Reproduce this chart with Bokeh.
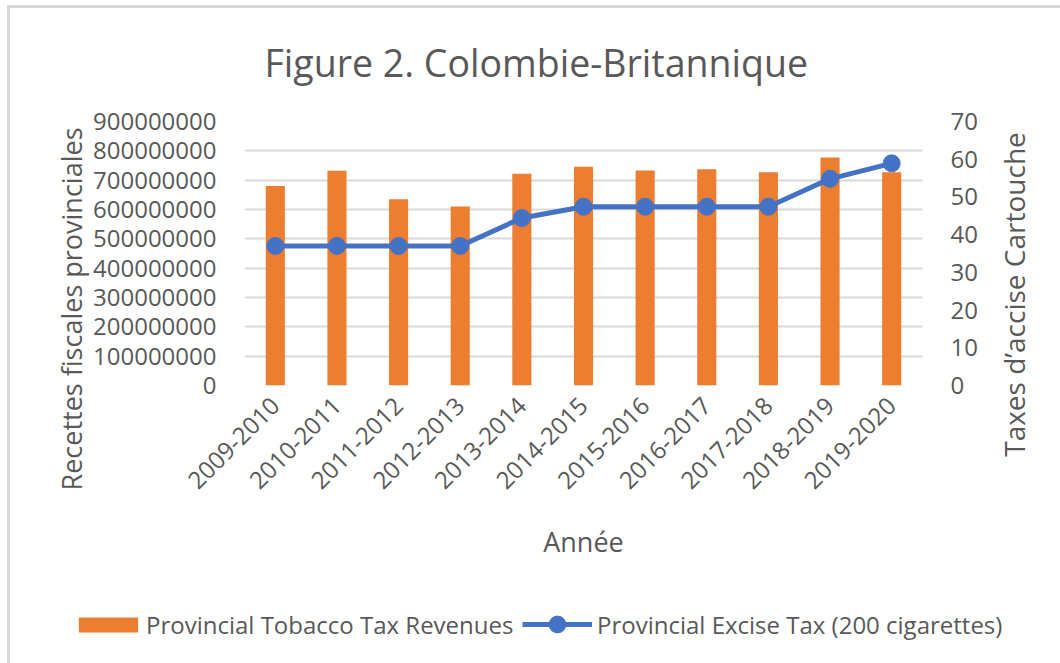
import math
from bokeh.plotting import figure
from bokeh.layouts import column, row
from bokeh.models import (FactorRange, Range1d, LinearAxis, FixedTicker, NumeralTickFormatter,
                          Legend, LegendItem, ColumnDataSource, Title, Label)
from bokeh.embed import file_html
from bokeh.resources import INLINE

years = ["2009-2010", "2010-2011", "2011-2012", "2012-2013", "2013-2014", "2014-2015",
         "2015-2016", "2016-2017", "2017-2018", "2018-2019", "2019-2020"]
revenues = [680e6, 732e6, 635e6, 610e6, 722e6, 746e6, 733e6, 737e6, 727e6, 777e6, 727e6]
excise_tax = [37, 37, 37, 37, 44.4, 47.4, 47.4, 47.4, 47.4, 54.8, 58.9]
left_ticks = [0, 100e6, 200e6, 300e6, 400e6, 500e6, 600e6, 700e6, 800e6, 900e6]
right_ticks = [0, 10, 20, 30, 40, 50, 60, 70]

W, H = 1060, 663
MAIN_W, MAIN_H = 990, 590
FL, FR, FT, FB = 244, 922, 121, 385   # frame box in canvas pixels
TXT = "#595959"
FONT = "Open Sans"
ORANGE = "#ED7D31"
BLUE = "#4472C4"
GRID = "#d9d9d9"

src = ColumnDataSource(dict(year=years, rev=revenues, tax=excise_tax))

p = figure(width=MAIN_W, height=MAIN_H, x_range=FactorRange(*years), y_range=Range1d(0, 900e6),
           output_backend="svg", toolbar_location=None,
           min_border_left=FL, min_border_right=MAIN_W - FR, min_border_top=FT,
           min_border_bottom=MAIN_H - FB)
p.extra_y_ranges = {"tax": Range1d(0, 70)}
p.x_range.range_padding = 0
p.outline_line_color = None
p.background_fill_color = "white"
p.border_fill_color = None
p.styles = {
    "background": f"linear-gradient({GRID},{GRID}) 7px 5px / 3px 100% no-repeat, "
                  f"linear-gradient({GRID},{GRID}) 7px 5px / 100% 3px no-repeat, white"
}

bars = p.vbar(x="year", top="rev", width=0.31, source=src, fill_color=ORANGE, line_color=None)
ln = p.line(x="year", y="tax", source=src, y_range_name="tax", line_color=BLUE, line_width=5)
pts = p.scatter(x="year", y="tax", source=src, y_range_name="tax", size=17,
                fill_color=BLUE, line_color=BLUE)

# title
p.add_layout(Title(text="Figure 2. Colombie-Britannique", align="left", offset=20,
                   vertical_align="middle", standoff=66, text_font=FONT,
                   text_font_size="37.5px", text_font_style="normal", text_color=TXT), "above")

# axes
yl = p.yaxis[0]
yl.ticker = FixedTicker(ticks=left_ticks)
yl.formatter = NumeralTickFormatter(format="0")
ry = LinearAxis(y_range_name="tax", ticker=FixedTicker(ticks=right_ticks))
p.add_layout(ry, "right")
for ax in (yl, ry):
    ax.axis_line_color = None
    ax.major_tick_line_color = None
    ax.minor_tick_line_color = None
    ax.major_label_text_font = FONT
    ax.major_label_text_font_size = "24px"
    ax.major_label_text_color = TXT
    ax.major_label_standoff = 22

# left axis title (side title, shifted along the axis)
p.add_layout(Title(text="Recettes fiscales provinciales", align="left", offset=-105,
                   vertical_align="bottom", standoff=0, text_font=FONT,
                   text_font_size="27px", text_font_style="normal", text_color=TXT), "left")

xa = p.xaxis[0]
xa.axis_line_color = None
xa.major_tick_line_color = None
xa.minor_tick_line_color = None
xa.major_label_orientation = math.pi / 4
xa.major_label_text_font = FONT
xa.major_label_text_font_size = "24px"
xa.major_label_text_color = TXT
xa.major_label_standoff = 10
xa.axis_label = "Ann\u00e9e"
xa.axis_label_text_font = FONT
xa.axis_label_text_font_size = "27px"
xa.axis_label_text_font_style = "normal"
xa.axis_label_text_color = TXT
xa.axis_label_standoff = 23

p.xgrid.grid_line_color = None
p.ygrid.ticker = FixedTicker(ticks=left_ticks)
p.ygrid.grid_line_color = GRID
p.ygrid.grid_line_width = 2


def strip(width, height, bg, x_range, y_range):
    s = figure(width=width, height=height, x_range=x_range, y_range=y_range,
               output_backend="svg", toolbar_location=None,
               x_axis_location=None, y_axis_location=None,
               min_border_left=0, min_border_right=0, min_border_top=0, min_border_bottom=0)
    s.outline_line_color = None
    s.background_fill_color = None
    s.border_fill_color = None
    s.xgrid.visible = False
    s.ygrid.visible = False
    s.styles = {"background": bg}
    return s


# right strip holding the right axis title
rs = strip(W - MAIN_W, MAIN_H,
           f"linear-gradient({GRID},{GRID}) 0px 5px / 100% 3px no-repeat, white",
           Range1d(0, 1), Range1d(0, 1))
rs.add_layout(Label(x=1013 - MAIN_W, y=MAIN_H - 294, x_units="screen", y_units="screen",
                    text="Taxes d\u2019accise Cartouche", angle=math.pi / 2,
                    text_align="center", text_baseline="middle", text_font=FONT,
                    text_font_size="28px", text_color=TXT))

# legend strip (its series sit below the visible range; only their legend glyphs show)
lf = strip(W, H - MAIN_H,
           f"linear-gradient({GRID},{GRID}) 7px 0px / 3px 100% no-repeat, white",
           FactorRange(*years), Range1d(1e10, 2e10))
lbar = lf.vbar(x="year", top="rev", width=0.31, source=src, fill_color=ORANGE, line_color=None)
lline = lf.line(x="year", y="tax", source=src, line_color=BLUE, line_width=5)
lpts = lf.scatter(x="year", y="tax", source=src, size=17, fill_color=BLUE, line_color=BLUE)

common = dict(orientation="horizontal", label_text_font=FONT, label_text_font_size="24px",
              label_text_color=TXT, padding=0, margin=0, spacing=0,
              border_line_color=None, background_fill_alpha=0)
leg1 = Legend(items=[LegendItem(label="Provincial Tobacco Tax Revenues", renderers=[lbar])],
              location=(71, 22), glyph_width=74, glyph_height=19, label_standoff=1, **common)
leg2 = Legend(items=[LegendItem(label="Provincial Excise Tax (200 cigarettes)",
                                renderers=[lline, lpts])],
              location=(522, 18), glyph_width=70, glyph_height=42, label_standoff=5, **common)
lf.add_layout(leg1)
lf.add_layout(leg2)

layout = column(row(p, column(rs, spacing=0), spacing=0), row(lf, spacing=0), spacing=0)
open("out.html", "w").write(file_html(layout, INLINE))
